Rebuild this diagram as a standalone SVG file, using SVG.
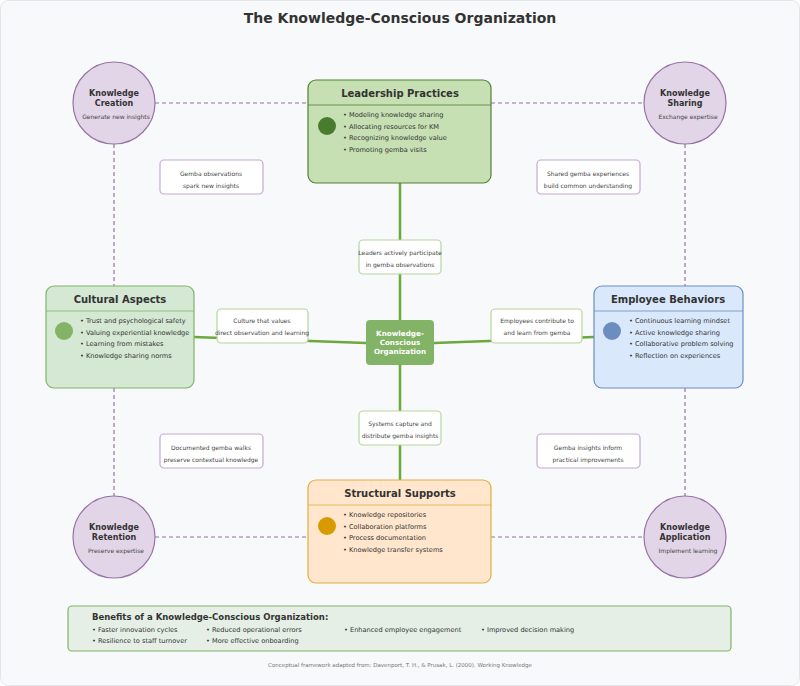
<svg xmlns="http://www.w3.org/2000/svg" width="800" height="686" viewBox="0 0 800 686">
<style>
text{font-family:"DejaVu Sans","Noto Sans",sans-serif;fill:#333}
.t{font-weight:bold;font-size:10px;text-anchor:middle}
.b{font-size:6.6px}
.c{fill:#e1d5e7;stroke:#9673a6;stroke-width:1.2}
.ct{font-weight:bold;font-size:8px;text-anchor:middle}
.cs{font-size:6px;text-anchor:middle;fill:#444}
.dash{stroke:#9673a6;stroke-width:1.2;stroke-dasharray:4 3;fill:none}
.sol{stroke:#6aaa3a;stroke-width:2.5;fill:none}
.lg{fill:#fff;stroke:#b5d69c;stroke-width:1.2}
.lp{fill:#fff;stroke:#c5a9cf;stroke-width:1.2}
.lt{font-size:6px;text-anchor:middle;fill:#444}
</style>
<rect x="0.5" y="0.5" width="799" height="685" rx="8" fill="#f8f9fa" stroke="#e3e6ea"/>
<text x="400" y="23" style="font-weight:bold;font-size:14px" text-anchor="middle">The Knowledge-Conscious Organization</text>
<g id="connectors">
<path class="dash" d="M155 103H308M491 103H644M114 144V286M114 388V496M685 144V286M685 388V496M155 537H308M491 537H644"/>
<path class="sol" d="M400 183V320M400 365V480M194 337L366 343M434 343L594 337"/>
</g>
<g id="knowledge-creation"><circle class="c" cx="114" cy="103" r="41"/><text class="ct" x="114" y="96">Knowledge</text><text class="ct" x="114" y="106">Creation</text><text class="cs" x="116" y="119">Generate new insights</text></g>
<g id="knowledge-sharing"><circle class="c" cx="685" cy="103" r="41"/><text class="ct" x="685" y="96">Knowledge</text><text class="ct" x="685" y="106">Sharing</text><text class="cs" x="688" y="119">Exchange expertise</text></g>
<g id="knowledge-retention"><circle class="c" cx="114" cy="537" r="41"/><text class="ct" x="114" y="530">Knowledge</text><text class="ct" x="114" y="540">Retention</text><text class="cs" x="116" y="553">Preserve expertise</text></g>
<g id="knowledge-application"><circle class="c" cx="685" cy="537" r="41"/><text class="ct" x="685" y="530">Knowledge</text><text class="ct" x="685" y="540">Application</text><text class="cs" x="688" y="553">Implement learning</text></g>
<g id="leadership"><rect x="308" y="80" width="183" height="103" rx="8" fill="#c6e0b4" stroke="#538135" stroke-width="1.2"/><line x1="308" y1="105" x2="491" y2="105" stroke="#538135" stroke-width="0.8"/><text class="t" x="400" y="97">Leadership Practices</text><circle cx="327" cy="126" r="9" fill="#4a7c2f"/>
<text class="b" x="343" y="117">• Modeling knowledge sharing</text><text class="b" x="343" y="128.5">• Allocating resources for KM</text><text class="b" x="343" y="140">• Recognizing knowledge value</text><text class="b" x="343" y="151.5">• Promoting gemba visits</text></g>
<g id="cultural"><rect x="46" y="286" width="148" height="102" rx="8" fill="#d5e8d4" stroke="#82b366" stroke-width="1.2"/><line x1="46" y1="311" x2="194" y2="311" stroke="#82b366" stroke-width="0.8"/><text class="t" x="120" y="303">Cultural Aspects</text><circle cx="64" cy="331" r="9" fill="#82b366"/>
<text class="b" x="80" y="323">• Trust and psychological safety</text><text class="b" x="80" y="334.5">• Valuing experiential knowledge</text><text class="b" x="80" y="346">• Learning from mistakes</text><text class="b" x="80" y="357.5">• Knowledge sharing norms</text></g>
<g id="employee"><rect x="594" y="286" width="149" height="102" rx="8" fill="#dae8fc" stroke="#6c8ebf" stroke-width="1.2"/><line x1="594" y1="311" x2="743" y2="311" stroke="#6c8ebf" stroke-width="0.8"/><text class="t" x="668" y="303">Employee Behaviors</text><circle cx="612" cy="331" r="9" fill="#6c8ebf"/>
<text class="b" x="629" y="323">• Continuous learning mindset</text><text class="b" x="629" y="334.5">• Active knowledge sharing</text><text class="b" x="629" y="346">• Collaborative problem solving</text><text class="b" x="629" y="357.5">• Reflection on experiences</text></g>
<g id="structural"><rect x="308" y="480" width="183" height="103" rx="8" fill="#ffe6cc" stroke="#e0b040" stroke-width="1.2"/><line x1="308" y1="505" x2="491" y2="505" stroke="#e0b040" stroke-width="0.8"/><text class="t" x="400" y="497">Structural Supports</text><circle cx="327" cy="526" r="9" fill="#d79b00"/>
<text class="b" x="343" y="517">• Knowledge repositories</text><text class="b" x="343" y="528.5">• Collaboration platforms</text><text class="b" x="343" y="540">• Process documentation</text><text class="b" x="343" y="551.5">• Knowledge transfer systems</text></g>
<g id="center"><rect x="366" y="320" width="68" height="45" rx="4" fill="#82b366"/><text x="400" y="336" style="fill:#fff;font-weight:bold;font-size:7.2px" text-anchor="middle">Knowledge-</text><text x="400" y="345" style="fill:#fff;font-weight:bold;font-size:7.2px" text-anchor="middle">Conscious</text><text x="400" y="354" style="fill:#fff;font-weight:bold;font-size:7.2px" text-anchor="middle">Organization</text></g>
<g id="label-leaders"><rect class="lg" x="359" y="240" width="82" height="34" rx="4"/><text class="lt" x="400" y="255">Leaders actively participate</text><text class="lt" x="400" y="267">in gemba observations</text></g>
<g id="label-culture"><rect class="lg" x="217" y="309" width="91" height="34" rx="4"/><text class="lt" x="262" y="323">Culture that values</text><text class="lt" x="262" y="335">direct observation and learning</text></g>
<g id="label-employees"><rect class="lg" x="491" y="309" width="91" height="34" rx="4"/><text class="lt" x="537" y="323">Employees contribute to</text><text class="lt" x="537" y="335">and learn from gemba</text></g>
<g id="label-systems"><rect class="lg" x="359" y="411" width="82" height="34" rx="4"/><text class="lt" x="400" y="426">Systems capture and</text><text class="lt" x="400" y="438">distribute gemba insights</text></g>
<g id="label-creation"><rect class="lp" x="160" y="160" width="103" height="34" rx="4"/><text class="lt" x="211" y="176">Gemba observations</text><text class="lt" x="211" y="188">spark new insights</text></g>
<g id="label-sharing"><rect class="lp" x="537" y="160" width="103" height="34" rx="4"/><text class="lt" x="588" y="176">Shared gemba experiences</text><text class="lt" x="588" y="188">build common understanding</text></g>
<g id="label-retention"><rect class="lp" x="160" y="434" width="103" height="34" rx="4"/><text class="lt" x="211" y="450">Documented gemba walks</text><text class="lt" x="211" y="462">preserve contextual knowledge</text></g>
<g id="label-application"><rect class="lp" x="537" y="434" width="103" height="34" rx="4"/><text class="lt" x="588" y="450">Gemba insights inform</text><text class="lt" x="588" y="462">practical improvements</text></g>
<g id="benefits"><rect x="68" y="606" width="663" height="45" rx="4" fill="#e5efe6" stroke="#82b366" stroke-width="1.2"/>
<text x="92" y="620" style="font-weight:bold;font-size:8.5px">Benefits of a Knowledge-Conscious Organization:</text>
<text class="b" x="92" y="632">• Faster innovation cycles</text><text class="b" x="206" y="632">• Reduced operational errors</text><text class="b" x="344" y="632">• Enhanced employee engagement</text><text class="b" x="481" y="632">• Improved decision making</text>
<text class="b" x="92" y="643">• Resilience to staff turnover</text><text class="b" x="206" y="643">• More effective onboarding</text></g>
<text x="400" y="667" style="font-size:5.5px;fill:#777" text-anchor="middle">Conceptual framework adapted from: Davenport, T. H., &amp; Prusak, L. (2000). Working Knowledge</text>
</svg>
